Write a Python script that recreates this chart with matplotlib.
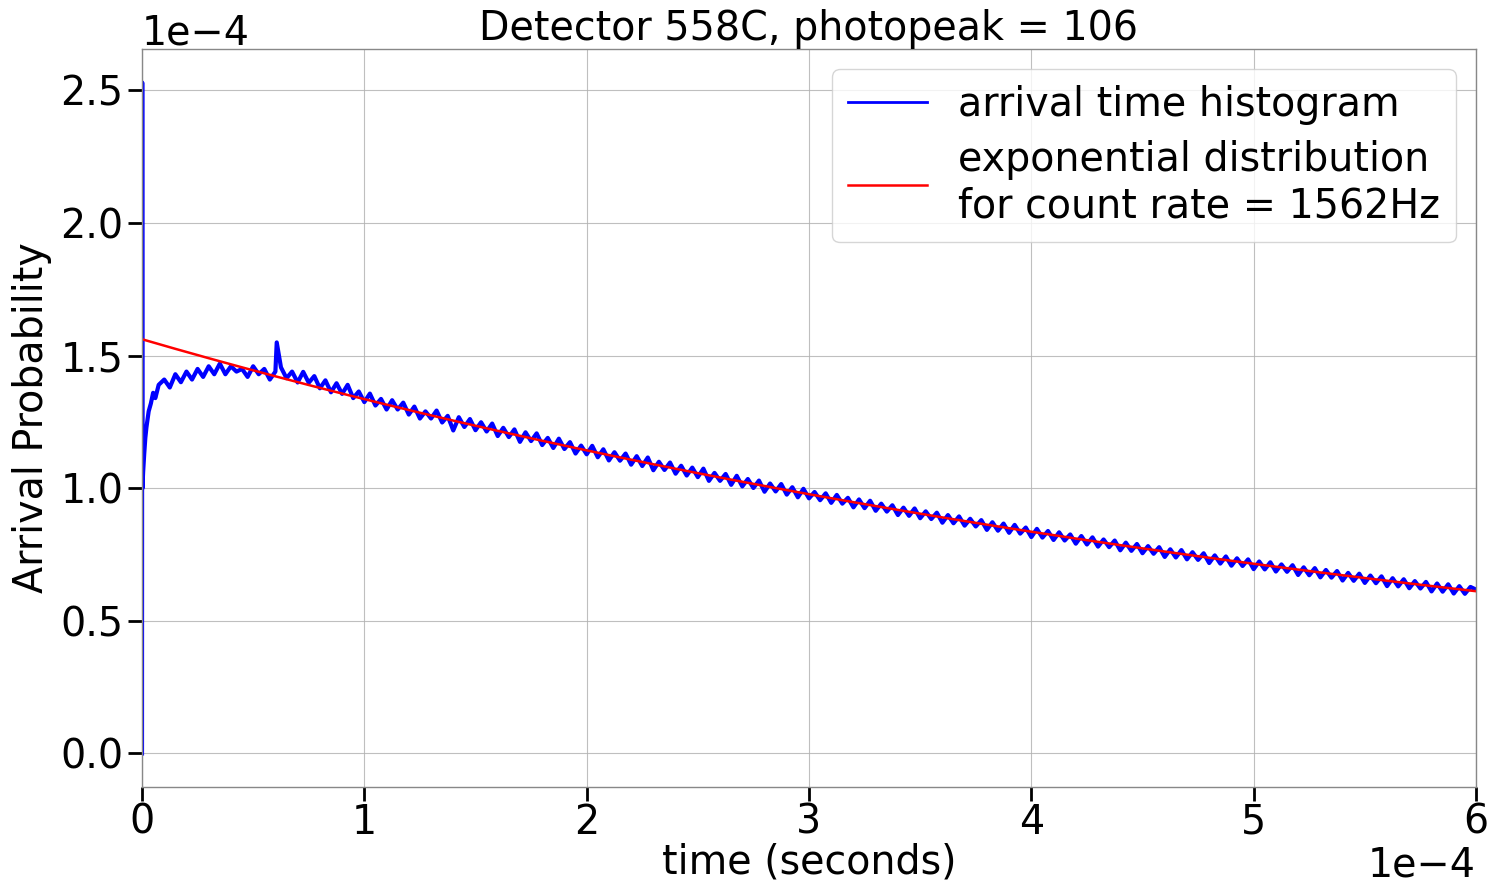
import numpy as np
import matplotlib
matplotlib.use("Agg")
import matplotlib.pyplot as plt

# ---- data -------------------------------------------------------------
title = "Detector 558C, photopeak = 106"
count_rate_hz = 1562
bin_width_s = 1e-7
x_max_s = 6e-4

# early part of the arrival-time histogram (time in microseconds, prob in 1e-4)
t_early_us = [0, 0.1, 0.2, 0.5, 1, 1.5, 2, 3, 4, 5, 6, 7.5]
p_early = [0.0, 2.53, 1.00, 1.06, 1.13, 1.19, 1.23, 1.29, 1.32, 1.36, 1.34, 1.39]

# plateau 10..60 us, step 2.5 us
t_plateau_us = np.arange(10, 60.1, 2.5)
p_plateau = [1.41, 1.38, 1.43, 1.40, 1.44, 1.41, 1.45, 1.42, 1.46, 1.43, 1.47,
             1.43, 1.46, 1.44, 1.45, 1.42, 1.46, 1.43, 1.45, 1.41, 1.44]

# spike near 61 us
t_spike_us = [60.6]
p_spike = [1.55]

# decay 62.5..600 us, step 2.5 us
t_decay_us = np.arange(62.5, 600.1, 2.5)
p_decay = [
    1.456, 1.415, 1.440, 1.399, 1.439, 1.398, 1.423, 1.377, 1.407, 1.362, 1.396,
    1.356, 1.390, 1.340, 1.365, 1.325,
    1.357, 1.312, 1.337, 1.297, 1.332, 1.297, 1.323, 1.278, 1.308, 1.263, 1.290,
    1.263, 1.293, 1.248, 1.273, 1.218, 1.268, 1.231, 1.261, 1.219, 1.249, 1.214,
    1.244, 1.197, 1.228, 1.193, 1.222, 1.175, 1.211, 1.178, 1.207, 1.163, 1.190,
    1.152, 1.187, 1.148, 1.174, 1.131, 1.161, 1.128, 1.160, 1.117, 1.147, 1.105,
    1.136, 1.104, 1.131, 1.089, 1.121, 1.084, 1.116, 1.068, 1.100, 1.069, 1.097,
    1.055, 1.085, 1.048, 1.078, 1.042, 1.074, 1.028, 1.058, 1.028, 1.054, 1.013,
    1.047, 1.007, 1.035, 1.001, 1.029, 0.987, 1.018, 0.988, 1.016, 0.976, 1.004,
    0.966, 0.998, 0.962, 0.986, 0.955, 0.981, 0.945, 0.975, 0.942, 0.964, 0.928,
    0.958, 0.925, 0.953, 0.915, 0.942, 0.912, 0.936, 0.899, 0.927, 0.896, 0.924,
    0.887, 0.913, 0.884, 0.908, 0.870, 0.899, 0.868, 0.894, 0.859, 0.885, 0.856,
    0.880, 0.843, 0.872, 0.840, 0.867, 0.832, 0.862, 0.829, 0.852, 0.816, 0.847,
    0.814, 0.839, 0.805, 0.834, 0.803, 0.826, 0.791, 0.820, 0.788, 0.815, 0.780,
    0.807, 0.778, 0.803, 0.766, 0.795, 0.764, 0.790, 0.755, 0.782, 0.753, 0.778,
    0.741, 0.770, 0.739, 0.767, 0.732, 0.759, 0.730, 0.755, 0.718, 0.747, 0.716,
    0.743, 0.708, 0.736, 0.707, 0.732, 0.695, 0.724, 0.694, 0.721, 0.686, 0.713,
    0.685, 0.710, 0.673, 0.702, 0.672, 0.699, 0.664, 0.692, 0.663, 0.688, 0.652,
    0.681, 0.651, 0.678, 0.643, 0.671, 0.642, 0.668, 0.631, 0.661, 0.630, 0.657,
    0.623, 0.650, 0.622, 0.647, 0.611, 0.641, 0.610, 0.638, 0.603, 0.631, 0.602,
    0.628, 0.618,
]

hist_label = "arrival time histogram"
exp_label = "exponential distribution\nfor count rate = 1562Hz"
x_label = "time (seconds)"
y_label = "Arrival Probability"
x_offset_label = "1e\u22124"

# ---- assemble ---------------------------------------------------------
t_hist = np.concatenate([t_early_us, t_plateau_us, t_spike_us, t_decay_us]) * 1e-6
p_hist = np.concatenate([p_early, p_plateau, p_spike, p_decay]) * 1e-4

t_model = np.linspace(0, x_max_s, 400)
p_model = count_rate_hz * bin_width_s * np.exp(-count_rate_hz * t_model)

# ---- plot -------------------------------------------------------------
FS = 28.5
fig = plt.figure(figsize=(14.9, 8.84), dpi=100)
ax = fig.add_axes([0.0953, 0.1097, 0.8953, 0.8349])

ax.plot(t_hist, p_hist, color="blue", lw=3.0, label=hist_label)
ax.plot(t_model, p_model, color="red", lw=1.8, label=exp_label)

ax.set_xlim(0, x_max_s)
ax.ticklabel_format(style="sci", axis="both", scilimits=(0, 0))
ax.grid(True, color="#b0b0b0", lw=0.8, alpha=0.8)
ax.set_title(title, fontsize=FS, pad=4)
ax.set_xlabel(x_label, fontsize=FS, labelpad=0)
ax.set_ylabel(y_label, fontsize=FS, labelpad=6)
ax.tick_params(axis="both", labelsize=FS, length=10, width=2, color="black")
ax.tick_params(axis="x", pad=1.5)
ax.xaxis.get_offset_text().set_visible(False)
ax.text(1.0, -0.121, x_offset_label, transform=ax.transAxes, ha="right",
        va="baseline", fontsize=FS)
ax.yaxis.get_offset_text().set_fontsize(FS)
for s in ax.spines.values():
    s.set_color("#888888")
    s.set_linewidth(1.0)

leg = ax.legend(loc="upper right", fontsize=FS, handlelength=2.0, borderpad=0.4,
                labelspacing=0.4, handletextpad=0.8)
leg.get_lines()[0].set_linewidth(2.0)

fig.savefig("out.png", dpi=100)
